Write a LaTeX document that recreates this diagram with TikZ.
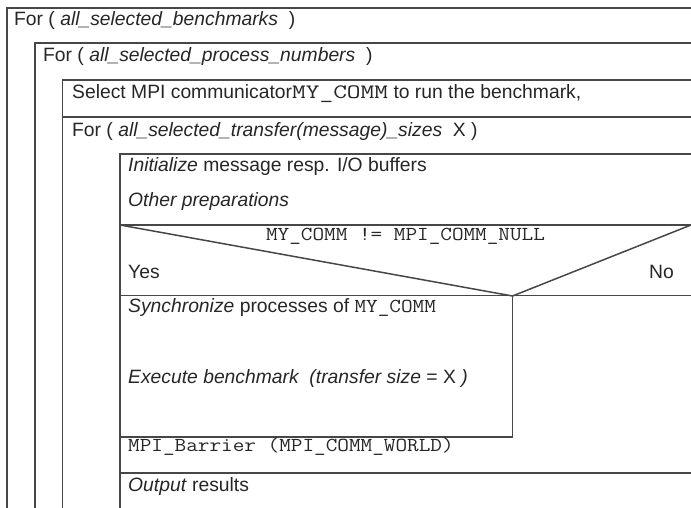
\documentclass[tikz,border=0pt]{standalone}
\usepackage{fontspec}
\setmainfont{Liberation Sans}
% typewriter faces for code identifiers
\newfontfamily\cmono[FakeStretch=1.14]{Latin Modern Mono}
\newfontfamily\cmonowide[FakeStretch=1.3]{Latin Modern Mono}
\newcommand\codetxt[1]{{\fontsize{19.8}{22}\selectfont\cmono #1}}
\begin{document}
\begin{tikzpicture}[x=1pt,y=-1pt,
  frame/.style={draw=black!72, line width=1.5pt},
  lbl/.style={anchor=base west, inner sep=0pt, text=black!85,
              font=\fontsize{19.3}{22}\selectfont},
  mono/.style={anchor=base, inner sep=0pt, text=black!85,
               font=\fontsize{19.8}{22}\selectfont\cmono}]
\useasboundingbox (0,0) rectangle (691,508);

% nested loop frames
\draw[frame] (691,8) -- (7,8) -- (7,508);
\draw[frame] (691,43) -- (35,43) -- (35,508);
\draw[frame] (691,80) -- (62.5,80) -- (62.5,508);
\draw[frame] (62.5,117) -- (691,117);
\draw[frame] (691,154) -- (120,154) -- (120,508);

% decision block
\coordinate (dtl) at (120,225);
\coordinate (dtr) at (691,225);
\coordinate (dv) at (512.5,296);
\draw[frame] (dtl) -- (dtr);
\draw[frame] (120,295.5) -- (691,295.5);
\draw[frame] (dtl) -- (dv) -- (dtr);
\draw[frame] (dv) -- (512.5,437) -- (120,437);
\draw[frame] (120,473) -- (691,473);

% texts
\node[lbl] (t1) at (14,26) {For ( \textit{all\_selected\_benchmarks}\ \ )};
\node[lbl] (t2) at (43,62) {For ( \textit{all\_selected\_process\_numbers}\ \ )};
\node[lbl] (t3) at (72,99) {Select MPI communicator{\fontsize{20.5}{24}\selectfont\cmonowide MY\_COMM} to run the benchmark,};
\node[lbl] (t4) at (72,136.5) {For ( \textit{all\_selected\_transfer(message)\_sizes}\ \ X )};
\node[lbl] (t5) at (128,171.5) {\textit{Initialize} message resp. I/O buffers};
\node[lbl] (t6) at (128,206.5) {\textit{Other preparations}};
\node[mono] (t7) at (405.5,240.5) {MY\_COMM != MPI\_COMM\_NULL};
\node[lbl] (yes) at (128,278) {Yes};
\node[lbl, anchor=base east] (no) at (674,278) {No};
\node[lbl] (t8) at (128,312) {\textit{Synchronize} processes of \codetxt{MY\_COMM}};
\node[lbl] (t9) at (128,383.5) {\textit{Execute benchmark\ \ (transfer size} = X \textit{)}};
\node[lbl] (t10) at (128,451.5) {\codetxt{MPI\_Barrier (MPI\_COMM\_WORLD)}};
\node[lbl] (t11) at (128,491.5) {\textit{Output} results};
\end{tikzpicture}
\end{document}
